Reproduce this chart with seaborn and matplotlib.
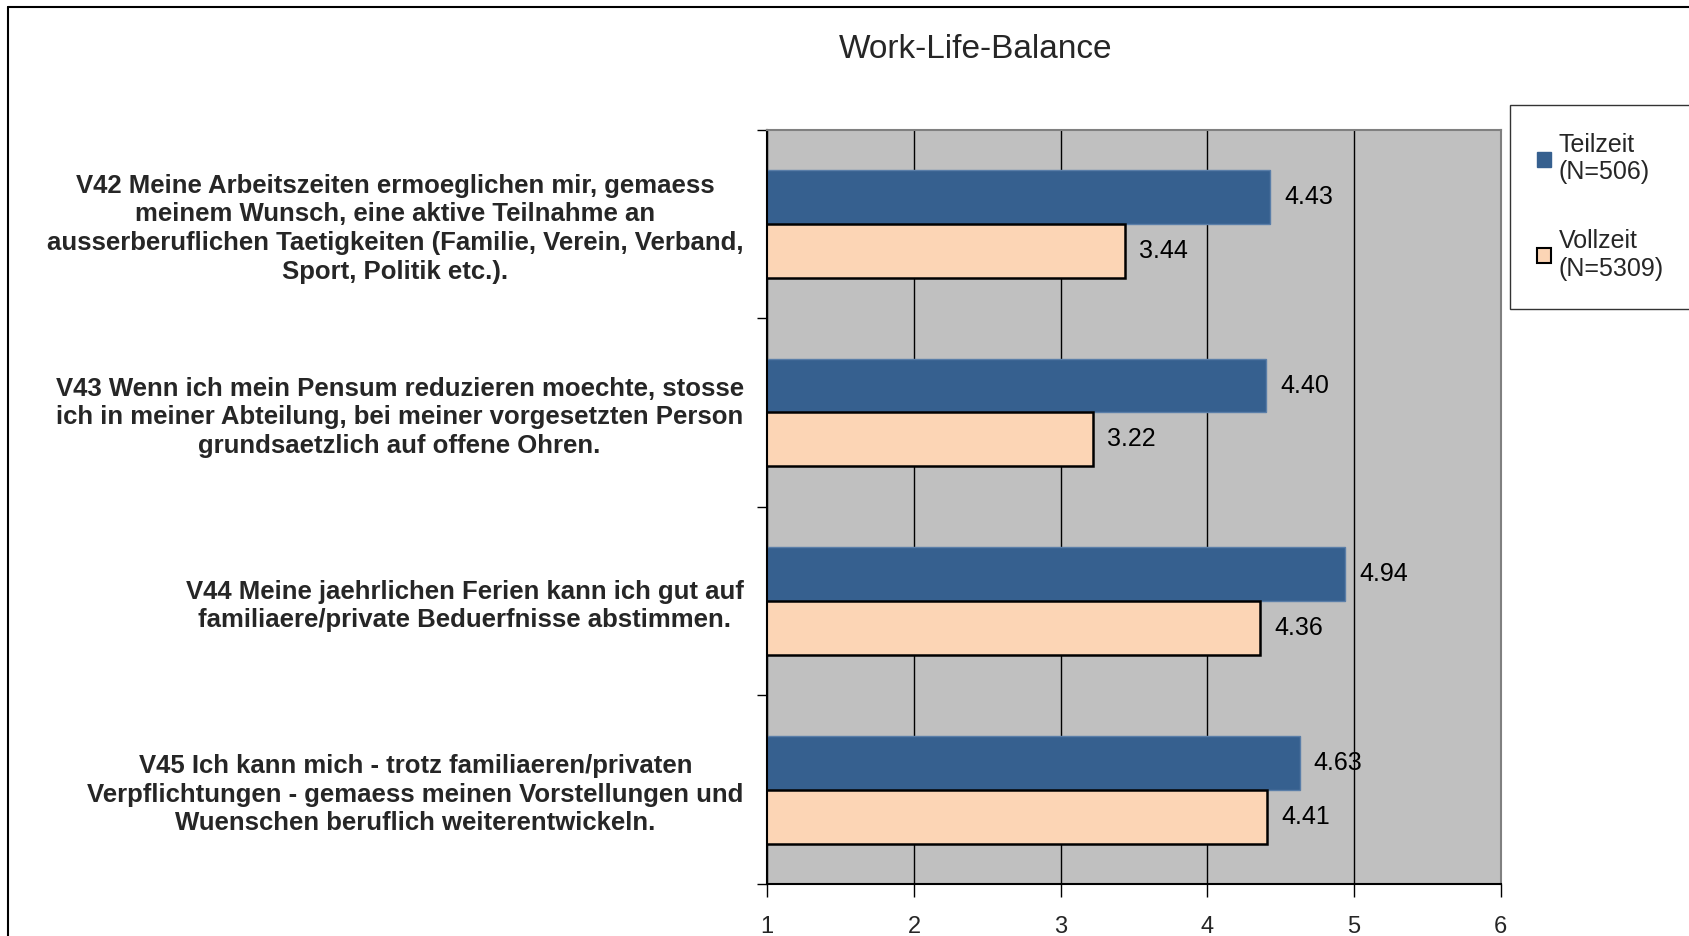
import matplotlib
matplotlib.use("Agg")
import matplotlib.pyplot as plt
from matplotlib.lines import Line2D
import pandas as pd
import seaborn as sns

# Values
categories = [
    "V42 Meine Arbeitszeiten ermoeglichen mir, gemaess\nmeinem Wunsch, eine aktive Teilnahme an\n"
    "ausserberuflichen Taetigkeiten (Familie, Verein, Verband,\nSport, Politik etc.).",
    "V43 Wenn ich mein Pensum reduzieren moechte, stosse\nich in meiner Abteilung, bei meiner vorgesetzten Person\n"
    "grundsaetzlich auf offene Ohren.",
    "V44 Meine jaehrlichen Ferien kann ich gut auf\nfamiliaere/private Beduerfnisse abstimmen.",
    "V45 Ich kann mich - trotz familiaeren/privaten\nVerpflichtungen - gemaess meinen Vorstellungen und\n"
    "Wuenschen beruflich weiterentwickeln.",
]
groups = ["Teilzeit\n(N=506)", "Vollzeit\n(N=5309)"]
teilzeit = [4.43, 4.40, 4.94, 4.63]
vollzeit = [3.44, 3.22, 4.36, 4.41]
x_ticks = [1, 2, 3, 4, 5, 6]

df = pd.DataFrame({
    "frage": categories * 2,
    "gruppe": [groups[0]] * len(categories) + [groups[1]] * len(categories),
    "wert": teilzeit + vollzeit,
})

sns.set_style("white")
plt.rcParams["font.family"] = ["Liberation Sans", "DejaVu Sans"]

fig = plt.figure(figsize=(16.9, 9.36), dpi=100)
ax = fig.add_axes([0.454, 0.0556, 0.434, 0.806])

sns.barplot(data=df, y="frage", x="wert", hue="gruppe", orient="h",
            palette=["#36608f", "#fcd5b5"], width=0.571, ax=ax, saturation=1)

# bar edges
for patch in ax.containers[0]:
    patch.set_edgecolor("#5a7ea8")
    patch.set_linewidth(1)
for patch in ax.containers[1]:
    patch.set_edgecolor("black")
    patch.set_linewidth(1.8)

for cont in ax.containers:
    ax.bar_label(cont, fmt="%.2f", padding=10, fontsize=18, color="black")

ax.set_facecolor("#c0c0c0")
ax.set_xlim(1, 6)
ax.set_ylim(len(categories) - 0.5, -0.5)
ax.set_xticks(x_ticks)
ax.set_xticklabels([str(t) for t in x_ticks], fontsize=17)
ax.xaxis.grid(True, color="black", linewidth=1)
ax.set_axisbelow(True)
ax.set_xlabel("")
ax.set_ylabel("")

ax.tick_params(axis="x", direction="out", length=9, width=1, pad=14, bottom=True, color="black")
ax.tick_params(axis="y", which="major", length=0, pad=17)
ax.set_yticks(range(len(categories)))
ax.set_yticklabels(categories, fontsize=18.5, fontweight="bold")
for lbl in ax.get_yticklabels():
    lbl.set_multialignment("center")
    lbl.set_linespacing(1.25)
ax.set_yticks([i - 0.5 for i in range(len(categories) + 1)], minor=True)
ax.tick_params(axis="y", which="minor", direction="out", length=7, width=1, left=True, color="black")

for side in ["top", "right"]:
    ax.spines[side].set_color("#808080")
    ax.spines[side].set_linewidth(1.5)
for side in ["left", "bottom"]:
    ax.spines[side].set_color("black")
    ax.spines[side].set_linewidth(1.5)

handles, labels = ax.get_legend_handles_labels()
ax.get_legend().remove()
leg = fig.legend(handles, labels, loc="upper left", bbox_to_anchor=(1510 / 1690, 1 - 105 / 936),
                 fontsize=18, frameon=True, fancybox=False, edgecolor="black",
                 handlelength=0.55, handleheight=0.55, handletextpad=0.3,
                 labelspacing=1.8, borderpad=1.1, borderaxespad=0)
leg.get_frame().set_linewidth(1)
leg.legend_handles[0].set_edgecolor("#36608f")
leg.legend_handles[1].set_edgecolor("black")
leg.legend_handles[1].set_linewidth(1.5)

fig.suptitle("Work-Life-Balance", x=976 / 1690, y=1 - 34 / 936, fontsize=24, va="top")

# outer chart border (only top and left visible in the crop)
fig.add_artist(Line2D([8 / 1690, 8 / 1690], [0, 1 - 7 / 936], color="black", linewidth=1.5,
                      transform=fig.transFigure))
fig.add_artist(Line2D([8 / 1690, 1], [1 - 7 / 936, 1 - 7 / 936], color="black", linewidth=1.5,
                      transform=fig.transFigure))

fig.savefig("out.png", dpi=100, facecolor="white")
